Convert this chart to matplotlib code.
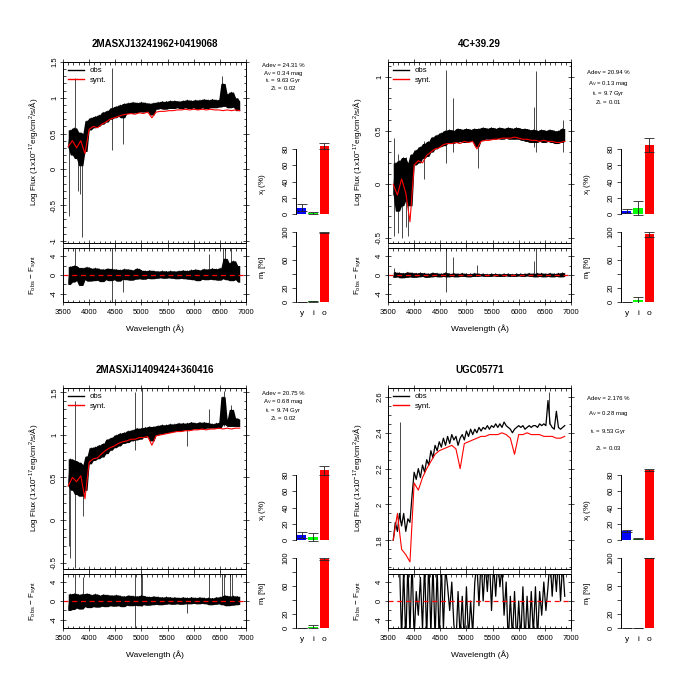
import numpy as np
import matplotlib
matplotlib.use("Agg")
import matplotlib.pyplot as plt
from matplotlib.lines import Line2D
from matplotlib.ticker import MultipleLocator, FixedLocator

plt.rcParams['font.family'] = ['Liberation Sans', 'DejaVu Sans']
plt.rcParams['mathtext.fontset'] = 'custom'
plt.rcParams['mathtext.rm'] = 'Liberation Sans'
plt.rcParams['mathtext.it'] = 'Liberation Sans:italic'
plt.rcParams['mathtext.bf'] = 'Liberation Sans:bold'
plt.rcParams['mathtext.sf'] = 'Liberation Sans'
plt.rcParams['axes.unicode_minus'] = False

# ------------------------------------------------------------------ data
NAMES = ["2MASXJ13241962+0419068", "4C+39.29", "2MASXiJ1409424+360416", "UGC05771"]
ADEV = ["24.31", "20.94", "20.75", "2.176"]
AV = ["0.34", "0.13", "0.68", "0.28"]
TL = ["9.63", "9.7", "9.74", "9.53"]
ZL = ["0.02", "0.01", "0.02", "0.03"]
POP_LABELS = ["y", "i", "o"]
POP_COLORS = ["#0000FF", "#00FF00", "#FF0000"]

WL_OBS = np.arange(3600, 6881, 40)   # 83 wavelengths (observed & residual)
WL_SYN = np.arange(3600, 6881, 80)   # 42 wavelengths (synthetic)
WL_TICKS = [3500, 4000, 4500, 5000, 5500, 6000, 6500, 7000]

OBS_1 = [0.30, 0.55, 0.20, 0.58, 0.15, 0.52, 0.05, 0.50, 0.25, 0.68,
         0.55, 0.72, 0.58, 0.74, 0.60, 0.76, 0.63, 0.80, 0.66, 0.82,
         0.70, 0.86, 0.72, 0.88, 0.74, 0.90, 0.72, 0.92, 0.78, 0.93,
         0.78, 0.94, 0.79, 0.93, 0.80, 0.94, 0.80, 0.93, 0.81, 0.92,
         0.76, 0.93, 0.84, 0.94, 0.85, 0.95, 0.84, 0.95, 0.85, 0.96,
         0.85, 0.96, 0.86, 0.95, 0.85, 0.96, 0.86, 0.97, 0.85, 0.96,
         0.86, 0.97, 0.84, 0.97, 0.86, 0.98, 0.85, 0.97, 0.86, 0.98,
         0.86, 0.97, 0.87, 0.98, 1.20, 0.88, 1.05, 0.86, 1.08, 0.87,
         1.00, 0.82, 0.95]
SYN_1 = [0.32, 0.40, 0.30, 0.40, 0.22, 0.56, 0.60, 0.58, 0.63, 0.66,
         0.70, 0.72, 0.74, 0.76, 0.77, 0.78, 0.77, 0.79, 0.78, 0.80,
         0.72, 0.80, 0.81, 0.81, 0.82, 0.82, 0.83, 0.83, 0.84, 0.83,
         0.84, 0.83, 0.84, 0.83, 0.84, 0.83, 0.83, 0.82, 0.83, 0.82,
         0.83, 0.82]
RES_1 = [-2.0, 1.8, -1.5, 2.0, -1.2, 1.6, -2.2, 1.5, -1.0, 1.7,
         -1.3, 1.4, -1.2, 1.5, -1.1, 1.3, -1.4, 1.2, -1.0, 1.4,
         -1.2, 1.3, -1.0, 1.2, -1.3, 1.1, -0.9, 1.3, -1.0, 1.2,
         -1.1, 1.0, -0.9, 1.4, -0.8, 1.0, -0.9, 0.9, -0.7, 1.0,
         -0.8, 0.9, -0.7, 0.8, -0.6, 0.9, -0.7, 0.8, -0.6, 0.9,
         -0.7, 0.8, -0.8, 0.9, -0.7, 1.0, -0.8, 0.9, -0.9, 1.1,
         -1.0, 1.2, -1.2, 1.0, -0.9, 1.3, -1.0, 1.2, -0.9, 1.4,
         -1.0, 1.3, -1.1, 1.5, -0.8, 3.5, -1.0, 2.5, -1.2, 3.0,
         -1.0, 2.0, -1.5]
SPK_WL_1 = [3620, 3730, 3780, 3830, 3870, 4430, 4650, 6550]
SPK_LO_1 = [-0.65, 0.30, -0.30, -0.35, -0.95, 0.27, 0.35, 0.90]
SPK_HI_1 = [0.55, 1.27, 0.50, 0.50, 0.45, 1.42, 0.80, 1.30]
RSPK_WL_1 = [3730, 4430, 4650, 6300, 6560, 6600, 6720]
RSPK_LO_1 = [0, -6, -3.5, 0, 0, 0, 0]
RSPK_HI_1 = [6, 6, 0, 4.5, 6, 6, 6]

OBS_2 = [-0.10, 0.20, -0.25, 0.22, -0.20, 0.25, -0.15, 0.20, -0.20, 0.28,
         0.18, 0.32, 0.20, 0.35, 0.24, 0.38, 0.26, 0.40, 0.30, 0.44,
         0.33, 0.46, 0.35, 0.48, 0.36, 0.50, 0.38, 0.51, 0.38, 0.50,
         0.39, 0.52, 0.40, 0.51, 0.39, 0.52, 0.40, 0.51, 0.40, 0.52,
         0.35, 0.52, 0.41, 0.53, 0.42, 0.52, 0.42, 0.53, 0.42, 0.52,
         0.43, 0.53, 0.42, 0.52, 0.43, 0.53, 0.42, 0.52, 0.42, 0.53,
         0.42, 0.52, 0.41, 0.52, 0.40, 0.51, 0.39, 0.51, 0.39, 0.50,
         0.40, 0.51, 0.39, 0.50, 0.40, 0.51, 0.39, 0.50, 0.38, 0.50,
         0.39, 0.52, 0.40]
SYN_2 = [0.00, -0.10, 0.05, -0.08, -0.35, 0.18, 0.22, 0.20, 0.27, 0.30,
         0.33, 0.34, 0.37, 0.38, 0.38, 0.39, 0.38, 0.40, 0.39, 0.40,
         0.33, 0.40, 0.41, 0.41, 0.42, 0.42, 0.43, 0.43, 0.43, 0.44,
         0.43, 0.42, 0.42, 0.41, 0.41, 0.40, 0.41, 0.40, 0.40, 0.39,
         0.39, 0.40]
RES_2 = [-0.5, 0.6, -0.4, 0.5, -0.6, 0.4, -0.5, 0.6, -0.4, 0.5,
         -0.5, 0.4, -0.4, 0.5, -0.3, 0.4, -0.5, 0.3, -0.4, 0.5,
         -0.3, 0.4, -0.4, 0.3, -0.3, 0.5, -0.4, 0.3, -0.3, 0.4,
         -0.4, 0.3, -0.3, 0.4, -0.3, 0.3, -0.4, 0.3, -0.3, 0.4,
         -0.3, 0.3, -0.2, 0.3, -0.3, 0.2, -0.3, 0.3, -0.2, 0.3,
         -0.3, 0.2, -0.3, 0.3, -0.2, 0.3, -0.3, 0.2, -0.3, 0.3,
         -0.2, 0.3, -0.3, 0.3, -0.2, 0.4, -0.3, 0.3, -0.4, 0.4,
         -0.3, 0.4, -0.4, 0.3, -0.3, 0.4, -0.4, 0.3, -0.3, 0.4,
         -0.4, 0.5, -0.3]
SPK_WL_2 = [3620, 3700, 3760, 3840, 3890, 4180, 4610, 4740, 5230, 6300, 6330, 6850]
SPK_LO_2 = [-0.48, -0.45, -0.50, -0.40, -0.48, 0.05, 0.20, 0.30, 0.15, 0.35, 0.30, 0.30]
SPK_HI_2 = [0.43, 0.28, 0.20, 0.25, 0.20, 0.40, 1.07, 0.80, 0.45, 0.72, 1.06, 0.60]
RSPK_WL_2 = [3620, 4610, 4740, 5200, 6300, 6340]
RSPK_LO_2 = [0, -3.5, 0, 0, 0, 0]
RSPK_HI_2 = [1.5, 6, 3.8, 2.2, 3.0, 6]

OBS_3 = [0.40, 0.72, 0.35, 0.70, 0.30, 0.68, 0.28, 0.65, 0.35, 0.75,
         0.66, 0.85, 0.70, 0.86, 0.72, 0.88, 0.74, 0.90, 0.78, 0.95,
         0.82, 0.97, 0.85, 1.00, 0.87, 1.02, 0.90, 1.03, 0.91, 1.05,
         0.93, 1.06, 0.94, 1.08, 0.95, 1.08, 0.97, 1.09, 0.98, 1.10,
         0.93, 1.10, 1.00, 1.11, 1.01, 1.12, 1.02, 1.12, 1.03, 1.13,
         1.04, 1.13, 1.05, 1.14, 1.05, 1.14, 1.06, 1.14, 1.06, 1.15,
         1.07, 1.14, 1.07, 1.15, 1.07, 1.15, 1.08, 1.14, 1.08, 1.13,
         1.08, 1.14, 1.08, 1.15, 1.45, 1.12, 1.18, 1.10, 1.30, 1.10,
         1.20, 1.10, 1.18]
SYN_3 = [0.40, 0.50, 0.45, 0.52, 0.25, 0.68, 0.72, 0.73, 0.78, 0.82,
         0.85, 0.87, 0.90, 0.92, 0.93, 0.95, 0.95, 0.97, 0.97, 0.98,
         0.88, 0.99, 1.00, 1.01, 1.02, 1.03, 1.04, 1.04, 1.05, 1.05,
         1.06, 1.06, 1.07, 1.06, 1.07, 1.07, 1.08, 1.07, 1.08, 1.07,
         1.08, 1.08]
RES_3 = [-2.0, 1.5, -1.8, 1.6, -1.5, 1.4, -1.7, 1.5, -1.2, 1.6,
         -1.4, 1.3, -1.2, 1.5, -1.3, 1.2, -1.1, 1.4, -1.2, 1.3,
         -1.0, 1.2, -1.1, 1.3, -1.0, 1.1, -1.2, 1.0, -0.9, 1.2,
         -1.0, 1.1, -0.9, 1.0, -1.0, 1.2, -0.8, 1.0, -0.9, 0.9,
         -0.8, 1.0, -0.7, 0.9, -0.8, 0.8, -0.7, 0.9, -0.6, 0.8,
         -0.7, 0.8, -0.6, 0.7, -0.7, 0.8, -0.6, 0.7, -0.6, 0.8,
         -0.5, 0.7, -0.6, 0.8, -0.5, 0.7, -0.6, 0.7, -0.8, 0.6,
         -0.7, 0.8, -0.6, 0.9, -0.8, 1.2, -1.0, 1.0, -0.9, 1.1,
         -0.8, 1.0, -0.7]
SPK_WL_3 = [3620, 3640, 3730, 3880, 4870, 5010, 5880, 6300, 6570, 6710]
SPK_LO_3 = [-0.30, -0.45, -0.57, 0.05, 0.82, 0.95, 0.87, 1.08, 1.10, 1.10]
SPK_HI_3 = [0.70, 0.60, 1.40, 0.60, 1.50, 1.55, 1.10, 1.30, 1.52, 1.35]
RSPK_WL_3 = [3730, 3880, 4870, 5000, 5020, 5880, 6300, 6550, 6580, 6700, 6730]
RSPK_LO_3 = [0, 0, -6, -1, -1, -2.5, 0, 0, 0, 0, 0]
RSPK_HI_3 = [6, 5, 6, 6, 6, 0, 6, 6, 6, 6, 6]

OBS_4 = [1.80, 1.90, 1.85, 1.95, 1.88, 1.95, 1.85, 1.92, 1.90, 2.05,
         2.18, 2.14, 2.20, 2.15, 2.22, 2.18, 2.25, 2.22, 2.30, 2.26,
         2.33, 2.30, 2.35, 2.32, 2.37, 2.33, 2.38, 2.34, 2.39, 2.36,
         2.38, 2.33, 2.37, 2.39, 2.36, 2.41, 2.38, 2.42, 2.39, 2.42,
         2.40, 2.43, 2.41, 2.43, 2.42, 2.44, 2.42, 2.44, 2.43, 2.45,
         2.43, 2.45, 2.43, 2.46, 2.44, 2.43, 2.42, 2.40, 2.42, 2.43,
         2.44, 2.43, 2.44, 2.42, 2.43, 2.44, 2.43, 2.44, 2.44, 2.43,
         2.45, 2.44, 2.45, 2.44, 2.58, 2.45, 2.43, 2.42, 2.52, 2.43,
         2.42, 2.43, 2.44]
SYN_4 = [1.80, 1.95, 1.75, 1.72, 1.68, 2.12, 2.08, 2.15, 2.20, 2.24,
         2.28, 2.30, 2.31, 2.32, 2.33, 2.31, 2.20, 2.34, 2.35, 2.36,
         2.37, 2.38, 2.38, 2.39, 2.39, 2.39, 2.40, 2.39, 2.37, 2.28,
         2.39, 2.39, 2.40, 2.39, 2.39, 2.39, 2.38, 2.38, 2.38, 2.37,
         2.37, 2.38]
RES_4 = [np.nan, np.nan, np.nan, 8, -8, 7, -9, 8, -7, 9,
         -8, 2, -3, 5, -6, 8, -8, 9, -7, 8,
         -8, 7, -9, 8, -6, 7, 3, -2, 4, -5,
         -9, 2, -8, 1, -9, 3, -8, 0, -7, 4,
         8, -1, 9, 0, 8, 2, 9, -2, 8, 1,
         9, 3, 7, -3, 4, -9, 1, -8, 2, -9,
         0, -8, 3, -9, 1, -8, 2, -7, 3, -8,
         2, -3, 4, -2, 3, 9, 1, 8, 2, 9,
         0, 8, 1]
SPK_WL_4 = [3730, 6570]
SPK_LO_4 = [1.90, 2.45]
SPK_HI_4 = [2.46, 2.63]
RSPK_WL_4 = []
RSPK_LO_4 = []
RSPK_HI_4 = []

# population vectors (light fraction x_j and mass fraction m_j, %)
XJ_1 = [8.0, 1.2, 83.5];  XJ_ERR_1 = [4.0, 1.3, 3.5]
MJ_1 = [0.3, 1.0, 99.0];  MJ_ERR_1 = [0.2, 0.5, 1.0]
XJ_2 = [4.0, 7.0, 85.0];  XJ_ERR_2 = [2.5, 8.5, 9.0]
MJ_2 = [0.3, 2.3, 96.5];  MJ_ERR_2 = [0.2, 4.5, 4.0]
XJ_3 = [6.0, 3.4, 86.0];  XJ_ERR_3 = [3.5, 5.0, 5.5]
MJ_3 = [0.3, 1.9, 98.6];  MJ_ERR_3 = [0.2, 1.9, 1.5]
XJ_4 = [11.0, 1.7, 86.3]; XJ_ERR_4 = [1.5, 0.5, 1.4]
MJ_4 = [0.3, 0.3, 100.0]; MJ_ERR_4 = [0.1, 0.2, 0.3]

PANELS = [
    (OBS_1, SYN_1, RES_1, (SPK_WL_1, SPK_LO_1, SPK_HI_1), (RSPK_WL_1, RSPK_LO_1, RSPK_HI_1), XJ_1, XJ_ERR_1, MJ_1, MJ_ERR_1),
    (OBS_2, SYN_2, RES_2, (SPK_WL_2, SPK_LO_2, SPK_HI_2), (RSPK_WL_2, RSPK_LO_2, RSPK_HI_2), XJ_2, XJ_ERR_2, MJ_2, MJ_ERR_2),
    (OBS_3, SYN_3, RES_3, (SPK_WL_3, SPK_LO_3, SPK_HI_3), (RSPK_WL_3, RSPK_LO_3, RSPK_HI_3), XJ_3, XJ_ERR_3, MJ_3, MJ_ERR_3),
    (OBS_4, SYN_4, RES_4, (SPK_WL_4, SPK_LO_4, SPK_HI_4), (RSPK_WL_4, RSPK_LO_4, RSPK_HI_4), XJ_4, XJ_ERR_4, MJ_4, MJ_ERR_4),
]

# ------------------------------------------------------------------ layout (pixels)
LAYOUT = [
    dict(L=63, T=62, ylim=(-1.03, 1.50), yt=[-1, -0.5, 0, 0.5, 1, 1.5], minor=0.1,
         info=[3.5, 11.2, 18.9, 26.6], dense=True),
    dict(L=388, T=62, ylim=(-0.547, 1.14), yt=[-0.5, 0, 0.5, 1], minor=0.1,
         info=[11, 21, 31, 41], dense=True),
    dict(L=63, T=388, ylim=(-0.576, 1.552), yt=[-0.5, 0, 0.5, 1, 1.5], minor=0.1,
         info=[5.5, 13.8, 22.1, 30.4], dense=True),
    dict(L=388, T=388, ylim=(1.64, 2.65), yt=[1.8, 2, 2.2, 2.4, 2.6], minor=0.05,
         info=[10, 26, 44, 61], dense=False),
]

W = 700.0
fig = plt.figure(figsize=(7, 7), dpi=100)
fig.patch.set_facecolor('white')


def px_axes(l, t, w, h):
    return fig.add_axes([l / W, 1 - (t + h) / W, w / W, h / W])


def ftext(x, y, s, **kw):
    fig.text(x / W, 1 - y / W, s, **kw)


def fmt(v):
    return '%g' % v


def noise_band(ax, wl, vals):
    """Fill the envelope of a noisy series (min/max of each point and its neighbours)."""
    v = np.asarray(vals, float)
    vp = np.concatenate([[v[0]], v, [v[-1]]])
    lo = np.minimum(np.minimum(vp[:-2], vp[1:-1]), vp[2:])
    hi = np.maximum(np.maximum(vp[:-2], vp[1:-1]), vp[2:])
    ax.fill_between(wl, lo, hi, color='black', lw=0)


TICKFS = 5.5
SPW = 0.7

for i, (panel, lay) in enumerate(zip(PANELS, LAYOUT)):
    obs, syn, res, spk, rspk, xj, xje, mj, mje = panel
    L, T = lay['L'], lay['T']

    # ---- main spectrum
    ax = px_axes(L, T, 183, 181)
    if lay['dense']:
        noise_band(ax, WL_OBS, obs)
        ax.plot(WL_OBS, obs, color='black', lw=0.5)
    else:
        ax.plot(WL_OBS, obs, color='black', lw=0.9)
    ax.vlines(spk[0], spk[1], spk[2], color='black', lw=0.5)
    ax.plot(WL_SYN, syn, color='red', lw=0.8)
    ax.set_xlim(3500, 7000)
    ax.set_ylim(*lay['ylim'])
    ax.xaxis.set_major_locator(FixedLocator(WL_TICKS))
    ax.xaxis.set_minor_locator(MultipleLocator(100))
    ax.set_xticklabels([])
    ax.yaxis.set_major_locator(FixedLocator(lay['yt']))
    ax.set_yticklabels([fmt(v) for v in lay['yt']], rotation=90, va='center', fontsize=TICKFS)
    ax.yaxis.set_minor_locator(MultipleLocator(lay['minor']))
    ax.tick_params(which='both', top=True, right=True, width=0.5)
    ax.tick_params(which='major', direction='inout', length=4, pad=1.5)
    ax.tick_params(which='minor', direction='in', length=1.8)
    for s in ax.spines.values():
        s.set_linewidth(SPW)
    handles = [Line2D([], [], color='black', lw=1.0), Line2D([], [], color='red', lw=1.0)]
    ax.legend(handles, ['obs', 'synt.'], loc='upper left', frameon=False, fontsize=5.7,
              handlelength=2.0, handletextpad=0.8, borderaxespad=0.2, labelspacing=0.25)

    # ---- residuals
    ar = px_axes(L, T + 186, 183, 54)
    if lay['dense']:
        noise_band(ar, WL_OBS, res)
        ar.plot(WL_OBS, res, color='black', lw=0.5)
    else:
        ar.plot(WL_OBS, res, color='black', lw=0.9)
    if len(rspk[0]):
        ar.vlines(rspk[0], rspk[1], rspk[2], color='black', lw=0.5)
    ar.axhline(0, color='red', lw=0.9, ls=(0, (4, 3)))
    ar.set_xlim(3500, 7000)
    ar.set_ylim(-5.7, 5.7)
    ar.xaxis.set_major_locator(FixedLocator(WL_TICKS))
    ar.set_xticklabels([str(v) for v in WL_TICKS], fontsize=TICKFS)
    ar.xaxis.set_minor_locator(MultipleLocator(100))
    ar.yaxis.set_major_locator(FixedLocator([-4, 0, 4]))
    ar.set_yticklabels(['-4', '0', '4'], rotation=90, va='center', fontsize=TICKFS)
    ar.yaxis.set_minor_locator(MultipleLocator(2))
    ar.tick_params(which='both', top=True, right=True, width=0.5)
    ar.tick_params(which='major', direction='inout', length=4, pad=1.5)
    ar.tick_params(axis='x', which='major', pad=3)
    ar.tick_params(which='minor', direction='in', length=1.8)
    for s in ar.spines.values():
        s.set_linewidth(SPW)

    # ---- x_j bars
    xc = [0.7, 1.9, 3.1]
    axx = px_axes(L + 233, T + 70.75, 33, 82.875)
    axx.bar(xc, xj, width=1.0, color=POP_COLORS, edgecolor='none')
    axx.errorbar(xc, xj, yerr=xje, fmt='none', ecolor='#222222', elinewidth=0.6,
                 capsize=3.3, capthick=0.6)
    axx.set_xlim(0.1, 3.6)
    axx.set_ylim(-2, 100)
    for k in ['top', 'right', 'bottom']:
        axx.spines[k].set_visible(False)
    axx.spines['left'].set_bounds(0, 80)
    axx.spines['left'].set_linewidth(SPW)
    axx.set_xticks([])
    axx.set_yticks([0, 20, 40, 60, 80])
    axx.set_yticklabels(['0', '20', '40', '60', '80'], rotation=90, va='center', fontsize=TICKFS)
    axx.tick_params(axis='y', direction='out', length=3, width=0.5, pad=1.5)
    axx.patch.set_alpha(0)

    # ---- m_j bars
    axm = px_axes(L + 233, T + 167.2, 33, 74.2)
    axm.bar(xc, mj, width=1.0, color=POP_COLORS, edgecolor='none')
    axm.errorbar(xc, mj, yerr=mje, fmt='none', ecolor='#222222', elinewidth=0.6,
                 capsize=3.3, capthick=0.6)
    axm.set_xlim(0.1, 3.6)
    axm.set_ylim(-2, 104)
    for k in ['top', 'right', 'bottom']:
        axm.spines[k].set_visible(False)
    axm.spines['left'].set_bounds(0, 100)
    axm.spines['left'].set_linewidth(SPW)
    axm.set_yticks([0, 20, 40, 60, 80, 100])
    axm.set_yticklabels(['0', '20', '', '60', '', '100'], rotation=90, va='center', fontsize=TICKFS)
    axm.tick_params(axis='y', direction='out', length=3, width=0.5, pad=1.5)
    axm.set_xticks(xc)
    axm.set_xticklabels(POP_LABELS, fontsize=6)
    axm.tick_params(axis='x', length=0, pad=4.5)
    axm.patch.set_alpha(0)

    # ---- texts
    ftext(L + 91.5, T - 18, NAMES[i], ha='center', va='center', fontsize=7, fontweight='bold')
    ftext(L - 30, T + 90, 'Log Flux (1x10$^{-17}$erg/cm$^2$/s/Å)', ha='center', va='center',
          rotation=90, fontsize=5.8)
    ftext(L - 30, T + 213, 'F$_{\\rm obs}$ $-$ F$_{\\rm synt}$', ha='center', va='center',
          rotation=90, fontsize=5.8)
    ftext(L + 91.5, T + 267, 'Wavelength (Å)', ha='center', va='center', fontsize=6)
    ftext(L + 200, T + 122, 'x$_{\\rm j}$ (%)', ha='center', va='center', rotation=90, fontsize=5.8)
    ftext(L + 200, T + 205, 'm$_{\\rm j}$ [%]', ha='center', va='center', rotation=90, fontsize=5.8)
    info = ['Adev = %s %%' % ADEV[i], 'A$_{\\rm V}$ = %s mag' % AV[i],
            't$_{\\rm L}$ = %s Gyr' % TL[i], 'Z$_{\\rm L}$ = %s' % ZL[i]]
    for s, dy in zip(info, lay['info']):
        ftext(L + 220, T + dy, s, ha='center', va='center', fontsize=4.3)

fig.savefig('out.png', dpi=100, facecolor='white')
